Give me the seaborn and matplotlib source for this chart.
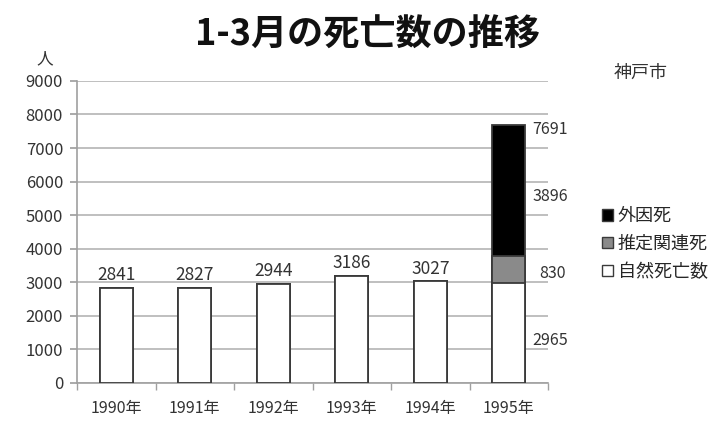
import matplotlib
matplotlib.use("Agg")
import matplotlib.pyplot as plt
from matplotlib.patches import Patch
import numpy as np
import pandas as pd
import seaborn as sns

years = ["1990年", "1991年", "1992年", "1993年", "1994年", "1995年"]
natural = [2841, 2827, 2944, 3186, 3027, 2965]   # 自然死亡数
related = [0, 0, 0, 0, 0, 830]                   # 推定関連死
external = [0, 0, 0, 0, 0, 3896]                 # 外因死
series_names = ["外因死", "推定関連死", "自然死亡数"]
y_ticks = [0, 1000, 2000, 3000, 4000, 5000, 6000, 7000, 8000, 9000]

sns.set_theme(style="white")
plt.rcParams["font.family"] = ["Noto Sans CJK JP", "DejaVu Sans"]

nat = np.array(natural)
rel = np.array(related)
ext = np.array(external)
df = pd.DataFrame({
    "year": years,
    "top": nat + rel + ext,
    "mid": nat + rel,
    "low": nat,
})

fig = plt.figure(figsize=(7.25, 4.26), dpi=100)
ax = fig.add_axes([0.1062, 0.101, 0.650, 0.709])

edge = "#3a3a3a"
for col, color in [("top", "black"), ("mid", "#8a8a8a"), ("low", "white")]:
    sns.barplot(data=df, x="year", y=col, color=color, ax=ax, width=0.42,
                edgecolor=edge, linewidth=1.3, saturation=1, zorder=3)

ax.set_ylim(0, 9000)
ax.set_xlim(-0.5, len(years) - 0.5)
ax.set_yticks(y_ticks)
ax.yaxis.grid(True, color="#b4b4b4", linewidth=1.2, zorder=0)
ax.set_axisbelow(True)
for s in ["top", "right"]:
    ax.spines[s].set_visible(False)
for s in ["left", "bottom"]:
    ax.spines[s].set_color("#a0a0a0")
    ax.spines[s].set_linewidth(1.2)
ax.set_xlabel("")
ax.set_ylabel("")
ax.tick_params(axis="y", left=True, length=5, color="#a0a0a0", labelsize=12,
               labelcolor="#333333", pad=5)
ax.tick_params(axis="x", which="major", length=0, labelsize=11.5,
               labelcolor="#333333", pad=12)
ax.set_xticks(np.arange(-0.5, len(years), 1.0), minor=True)
ax.tick_params(axis="x", which="minor", bottom=True, length=5, color="#a0a0a0")

# value labels above the single-segment bars
for i in range(len(years) - 1):
    ax.text(i, nat[i] + 110, f"{nat[i]}", ha="center", va="bottom",
            fontsize=12.5, color="#333333")

# segment labels for the stacked 1995 bar, placed to its right
i = len(years) - 1
lx = i + 0.3
ax.text(lx, nat[i] + rel[i] + ext[i] - 150, f"{nat[i] + rel[i] + ext[i]}",
        ha="left", va="center", fontsize=11.5, color="#333333")
ax.text(lx, nat[i] + rel[i] + ext[i] / 2 - 200, f"{ext[i]}", ha="left",
        va="center", fontsize=11.5, color="#333333")
ax.text(lx + 0.08, nat[i] + rel[i] / 2 - 120, f"{rel[i]}", ha="left",
        va="center", fontsize=11.5, color="#333333")
ax.text(lx, nat[i] * 0.43, f"{nat[i]}", ha="left", va="center",
        fontsize=11.5, color="#333333")

fig.text(0.507, 0.918, "1-3月の死亡数の推移", ha="center", va="center",
         fontsize=26, fontweight="bold", color="#111111")
fig.text(0.062, 0.862, "人", ha="center", va="center", fontsize=12,
         color="#333333")
fig.text(0.883, 0.83, "神戸市", ha="center", va="center", fontsize=13,
         color="#333333")

handles = [Patch(facecolor="black", edgecolor=edge),
           Patch(facecolor="#8a8a8a", edgecolor=edge),
           Patch(facecolor="white", edgecolor=edge)]
fig.legend(handles, series_names, loc="center left",
           bbox_to_anchor=(0.82, 0.427), frameon=False, fontsize=13,
           handlelength=0.6, handleheight=0.6, handletextpad=0.3,
           labelspacing=0.55, borderaxespad=0)

fig.savefig("out.png", dpi=100, facecolor="white")
